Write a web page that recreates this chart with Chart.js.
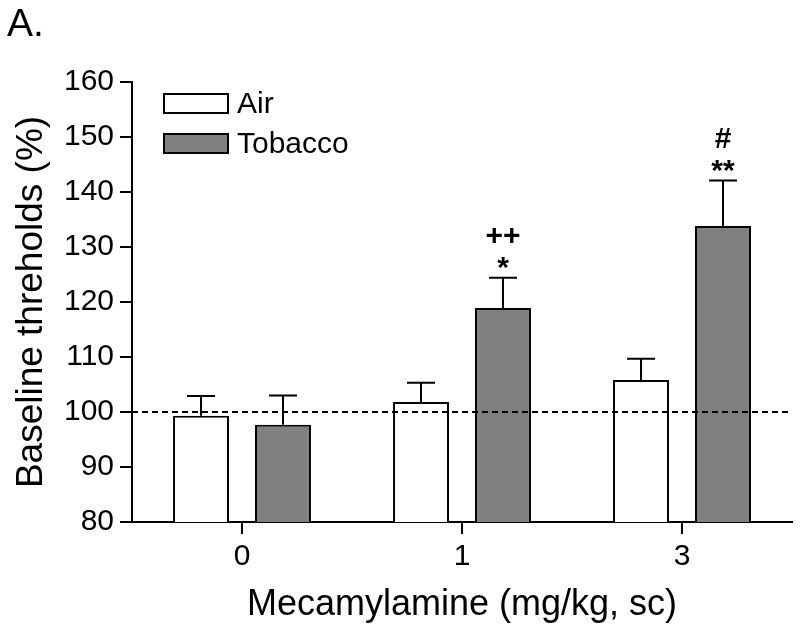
<!DOCTYPE html>
<html>
<head>
<meta charset="utf-8">
<script src="https://cdn.jsdelivr.net/npm/chart.js@4.4.1/dist/chart.umd.min.js"></script>
<style>
  body { margin: 0; background: #fff; }
  #wrap { position: relative; width: 800px; height: 631px; }
  #panel { position: absolute; left: 7px; top: 1px; font: 39px "Liberation Sans", Arial, sans-serif; color: #000; }
</style>
</head>
<body>
<div id="wrap">
  <canvas id="baseline" width="800" height="631"></canvas>
  <div id="panel">A.</div>
</div>
<script>
var doses = ["0", "1", "3"];
var airMean = [99.3, 101.8, 105.8];
var airSem = [3.6, 3.5, 3.9];
var tobaccoMean = [97.7, 118.9, 133.8];
var tobaccoSem = [5.3, 5.5, 8.3];
var tobaccoMarks = [[], ["++", "*"], ["#", "**"]];
var yTicks = [80, 90, 100, 110, 120, 130, 140, 150, 160];

var font = '"Liberation Sans", Arial, sans-serif';

var extras = {
  id: 'extras',
  afterDatasetsDraw: function(chart) {
    var ctx = chart.ctx;
    var y = chart.scales.y;
    var area = chart.chartArea;
    var sems = [airSem, tobaccoSem];
    ctx.save();
    ctx.strokeStyle = '#000';
    ctx.lineWidth = 2;
    // error bars (upper only)
    chart.data.datasets.forEach(function(ds, d) {
      var meta = chart.getDatasetMeta(d);
      meta.data.forEach(function(bar, i) {
        var top = y.getPixelForValue(ds.data[i] + sems[d][i]);
        ctx.beginPath();
        ctx.moveTo(bar.x, bar.y);
        ctx.lineTo(bar.x, top);
        ctx.moveTo(bar.x - 14, top);
        ctx.lineTo(bar.x + 14, top);
        ctx.stroke();
      });
    });
    // baseline at 100%
    var y100 = Math.round(y.getPixelForValue(100));
    ctx.setLineDash([6, 4]);
    ctx.beginPath();
    ctx.moveTo(area.left, y100);
    ctx.lineTo(area.right, y100);
    ctx.stroke();
    ctx.setLineDash([]);
    // significance marks
    var meta = chart.getDatasetMeta(1);
    ctx.fillStyle = '#000';
    ctx.textAlign = 'center';
    ctx.textBaseline = 'middle';
    meta.data.forEach(function(bar, i) {
      var marks = tobaccoMarks[i];
      if (!marks.length) return;
      var top = y.getPixelForValue(tobaccoMean[i] + tobaccoSem[i]);
      ctx.font = 'bold 30px ' + font;
      ctx.fillText(marks[1], bar.x, top - 9);
      ctx.fillText(marks[0], bar.x, top - 41);
    });
    // legend
    ctx.font = '30px ' + font;
    ctx.textAlign = 'left';
    chart.data.datasets.forEach(function(ds, k) {
      var by = 94 + k * 40;
      ctx.fillStyle = ds.backgroundColor;
      ctx.fillRect(164, by, 64, 19);
      ctx.strokeRect(164, by, 64, 19);
      ctx.fillStyle = '#000';
      ctx.fillText(ds.label, 237, by + 11);
    });
    ctx.restore();
  }
};

new Chart(document.getElementById('baseline'), {
  type: 'bar',
  data: {
    labels: doses,
    datasets: [{
      label: 'Air',
      data: airMean,
      backgroundColor: '#ffffff',
      borderColor: '#000',
      borderWidth: 2
    }, {
      label: 'Tobacco',
      data: tobaccoMean,
      backgroundColor: '#808080',
      borderColor: '#000',
      borderWidth: 2
    }]
  },
  options: {
    responsive: false,
    animation: false,
    events: [],
    categoryPercentage: 0.745,
    barPercentage: 0.683,
    layout: { padding: { top: 82, right: 8, left: 0, bottom: 0 } },
    plugins: { legend: { display: false }, tooltip: { enabled: false } },
    scales: {
      x: {
        offset: true,
        grid: { offset: false, drawOnChartArea: false, color: '#000', lineWidth: 2, tickLength: 12 },
        border: { color: '#000', width: 2 },
        ticks: { color: '#000', font: { family: font, size: 30 }, padding: 5 },
        title: { display: true, text: 'Mecamylamine (mg/kg, sc)', color: '#000', font: { family: font, size: 36 }, padding: { top: 6 } },
        afterFit: function(s) { s.height = 109; }
      },
      y: {
        min: 80, max: 160,
        afterBuildTicks: function(s) { s.ticks = yTicks.map(function(v) { return { value: v }; }); },
        grid: { drawOnChartArea: false, color: '#000', lineWidth: 2, tickLength: 12 },
        border: { color: '#000', width: 2 },
        ticks: { color: '#000', font: { family: font, size: 30 }, padding: 6 },
        title: { display: true, text: 'Baseline threholds (%)', color: '#000', font: { family: font, size: 37 }, padding: { top: 10 } },
        afterFit: function(s) { s.width = 132; }
      }
    }
  },
  plugins: [extras]
});
</script>
</body>
</html>
